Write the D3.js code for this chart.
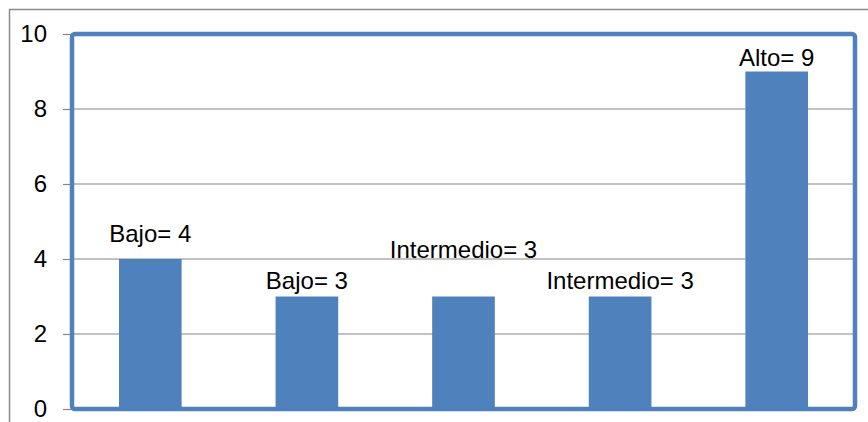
<!DOCTYPE html>
<html><head><meta charset="utf-8">
<script src="https://cdn.jsdelivr.net/npm/d3@7"></script>
<style>body{margin:0;background:#fff}svg{display:block}</style>
</head><body>
<svg id="c" width="868" height="422"></svg>
<script>
const categories = ["c1","c2","c3","c4","c5"];
const values = [4, 3, 3, 3, 9];
const labels = ["Bajo= 4", "Bajo= 3", "Intermedio= 3", "Intermedio= 3", "Alto= 9"];
const yTicks = [0, 2, 4, 6, 8, 10];

const svg = d3.select("#c");
const L = 72, R = 855, T = 34, B = 409;
const x = d3.scaleBand().domain(categories).range([L, R]).paddingInner(0.6).paddingOuter(0.3);
const y = d3.scaleLinear().domain([0, 10]).range([B, T]);
const font = "'Liberation Sans', Arial, sans-serif";
const labelLift = [17, 8, 39, 8, 6];

// outer frame
svg.append("rect").attr("x", 9.5).attr("y", 9.5).attr("width", 900).attr("height", 500)
  .attr("fill", "none").attr("stroke", "#8c8c8c").attr("stroke-width", 1.5);

// gridlines
svg.append("g").selectAll("line").data(yTicks.filter(t => t > 0 && t < 10)).join("line")
  .attr("x1", L).attr("x2", R).attr("y1", d => y(d)).attr("y2", d => y(d))
  .attr("stroke", "#868686").attr("stroke-width", 1.2);

// y axis
const ax = svg.append("g").attr("transform", `translate(${L},0)`)
  .call(d3.axisLeft(y).tickValues(yTicks).tickSize(9).tickPadding(16).tickFormat(d3.format("d")));
ax.select(".domain").remove();
ax.selectAll(".tick line").attr("stroke", "#868686").attr("stroke-width", 1.2);
ax.selectAll(".tick text").attr("font-family", font).attr("font-size", 24).attr("fill", "#000");

// bars
svg.append("g").selectAll("rect").data(values).join("rect")
  .attr("x", (d, i) => x(categories[i])).attr("width", x.bandwidth())
  .attr("y", d => y(d)).attr("height", d => B - y(d))
  .attr("fill", "#4f81bd");

// plot border
svg.append("rect").attr("x", L).attr("y", T).attr("width", R - L).attr("height", B - T)
  .attr("rx", 3).attr("fill", "none").attr("stroke", "#4f81bd").attr("stroke-width", 4.5);

// labels
svg.append("g").selectAll("text").data(values).join("text")
  .attr("x", (d, i) => x(categories[i]) + x.bandwidth() / 2)
  .attr("y", (d, i) => y(d) - labelLift[i])
  .attr("text-anchor", "middle")
  .attr("font-family", font).attr("font-size", 24).attr("fill", "#000")
  .text((d, i) => labels[i]);
</script>
</body></html>
